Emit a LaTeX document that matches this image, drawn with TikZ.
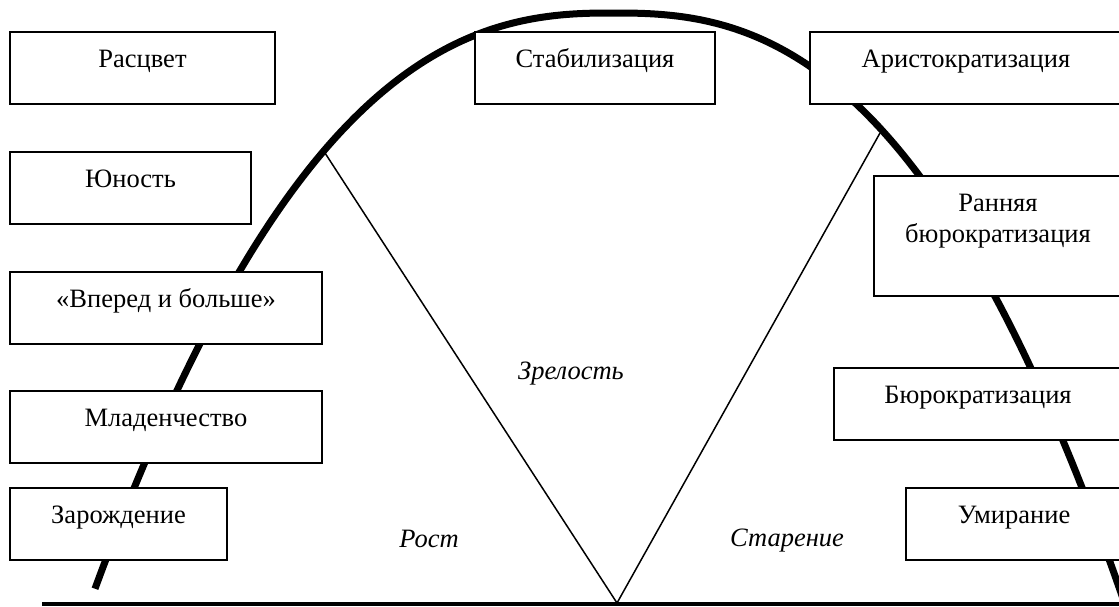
\documentclass[tikz,border=0pt]{standalone}
\usepackage{fontspec}
\setmainfont{Liberation Serif}
\begin{document}
\begin{tikzpicture}[x=1pt,y=-1pt,
  stage/.style={draw, line width=1.8pt, fill=white, inner sep=0pt, minimum height=72pt},
  lbl/.style={anchor=base, inner sep=0pt, font=\fontsize{26.5}{31}\selectfont},
  phase/.style={anchor=base, inner sep=0pt, font=\fontsize{26.5}{31}\selectfont\itshape},
  life/.style={line width=7pt, line join=round},
  split/.style={line width=1.5pt, line join=miter},
  axis/.style={line width=3.3pt}
]
\clip (0,0) rectangle (1119,606);

% life-cycle curve: two power-law branches meeting at a flat top
\draw[life]
  plot[domain=516:0.5, samples=120] ({611-\x}, {13+pow(\x/38.1,2.439)})
  -- plot[domain=0.5:522, samples=120] ({615+\x}, {13+pow(\x/39.7,2.5)});

% time axis
\coordinate (ax0) at (42,604);
\coordinate (ax1) at (1125,604);
\draw[axis] (ax0) -- (ax1);

% V dividing growth, maturity and ageing
\coordinate (vl) at (325,153);
\coordinate (vb) at (617,603);
\coordinate (vr) at (880,133);
\draw[split] (vl) -- (vb) -- (vr);

% stage boxes, left side
\node[stage, minimum width=265pt] (rasc) at (142.5,68) {};
\node[lbl] at ([yshift=-36pt]rasc.north) {Расцвет};
\node[stage, minimum width=241pt] (yun) at (130.5,188) {};
\node[lbl] at ([yshift=-36pt]yun.north) {Юность};
\node[stage, minimum width=312pt] (vper) at (166,308) {};
\node[lbl] at ([yshift=-36pt]vper.north) {«Вперед и больше»};
\node[stage, minimum width=312pt] (mlad) at (166,427) {};
\node[lbl] at ([yshift=-36pt]mlad.north) {Младенчество};
\node[stage, minimum width=217pt] (zar) at (118.5,524) {};
\node[lbl] at ([yshift=-36pt]zar.north) {Зарождение};

% stage boxes, top and right side
\node[stage, minimum width=240pt] (stab) at (595,68) {};
\node[lbl] at ([yshift=-36pt]stab.north) {Стабилизация};
\node[stage, minimum width=312pt] (arist) at (966,68) {};
\node[lbl] at ([yshift=-36pt]arist.north) {Аристократизация};
\node[stage, minimum width=248pt, minimum height=120pt] (rann) at (998,236) {};
\node[lbl] at ([yshift=-36pt]rann.north) {Ранняя};
\node[lbl] at ([yshift=-67pt]rann.north) {бюрократизация};
\node[stage, minimum width=288pt] (byur) at (978,404) {};
\node[lbl] at ([yshift=-36pt]byur.north) {Бюрократизация};
\node[stage, minimum width=216pt] (umir) at (1014,524) {};
\node[lbl] at ([yshift=-36pt]umir.north) {Умирание};

% phase names
\node[phase] (zrel) at (571,379) {Зрелость};
\node[phase] (rost) at (429,547) {Рост};
\node[phase] (star) at (787,546) {Старение};
\end{tikzpicture}
\end{document}
